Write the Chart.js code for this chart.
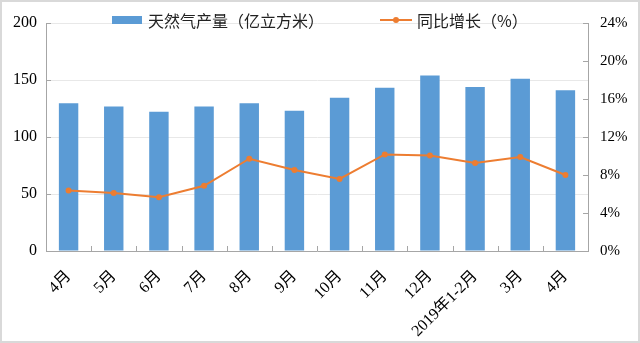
<!DOCTYPE html>
<html>
<head>
<meta charset="utf-8">
<script src="https://cdn.jsdelivr.net/npm/chart.js@4"></script>
<style>
    html, body { margin: 0; padding: 0; background: #fff; }
    #wrap {
        width: 640px; height: 343px; box-sizing: border-box;
        border: 2px solid #d9d9d9; background: #fff;
    }
    #box { width: 636px; height: 339px; position: relative; }
</style>
</head>
<body>
<div id="wrap"><div id="box"><canvas id="gasChart"></canvas></div></div>
<script>
// Data
const months = ['4月', '5月', '6月', '7月', '8月', '9月', '10月', '11月', '12月', '2019年1-2月', '3月', '4月'];
const output = [129.6, 126.8, 122.1, 126.8, 129.6, 123.0, 134.5, 143.3, 153.9, 143.9, 151.1, 141.0];
const growth = [6.36, 6.11, 5.67, 6.87, 9.71, 8.52, 7.59, 10.17, 10.06, 9.27, 9.89, 8.0];
const outputLabel = '天然气产量（亿立方米）';
const growthLabel = '同比增长（%）';

const BLUE = '#5b9bd5';
const ORANGE = '#ed7d31';
const AXIS = '#a6a6a6';
const serif = "'Liberation Serif', 'Noto Sans CJK SC', serif";
const cjk = "'Noto Sans CJK SC', sans-serif";

// Inward tick marks like the original
const innerTicks = {
    id: 'innerTicks',
    afterDatasetsDraw(chart) {
        const ctx = chart.ctx;
        const { y, y1 } = chart.scales;
        const area = chart.chartArea;
        ctx.save();
        ctx.strokeStyle = AXIS;
        ctx.lineWidth = 1;
        ctx.beginPath();
        const step = (area.right - area.left) / months.length;
        for (let i = 1; i < months.length; i++) {
            const px = Math.round(area.left + step * i) + 0.5;
            ctx.moveTo(px, area.bottom);
            ctx.lineTo(px, area.bottom - 5);
        }
        y.ticks.forEach((t, i) => {
            const py = Math.round(y.getPixelForTick(i)) + 0.5;
            ctx.moveTo(area.left, py);
            ctx.lineTo(area.left + 5, py);
        });
        y1.ticks.forEach((t, i) => {
            const py = Math.round(y1.getPixelForTick(i)) + 0.5;
            ctx.moveTo(area.right, py);
            ctx.lineTo(area.right - 5, py);
        });
        ctx.stroke();
        ctx.restore();
    }
};

// Legend drawn inside the plot top
const innerLegend = {
    id: 'innerLegend',
    afterDraw(chart) {
        const ctx = chart.ctx;
        const ds = chart.data.datasets;
        const bar = ds.find(d => d.type === 'bar');
        const line = ds.find(d => d.type === 'line');
        const cy = 18;
        ctx.save();
        ctx.font = '16px ' + cjk;
        ctx.textBaseline = 'middle';

        ctx.fillStyle = bar.backgroundColor;
        ctx.fillRect(110, cy - 4, 30, 8);
        ctx.fillStyle = '#222';
        ctx.fillText(bar.label, 146, cy + 1);

        ctx.strokeStyle = line.borderColor;
        ctx.lineWidth = 2;
        ctx.beginPath();
        ctx.moveTo(378, cy);
        ctx.lineTo(410, cy);
        ctx.stroke();
        ctx.fillStyle = line.borderColor;
        ctx.beginPath();
        ctx.arc(394, cy, 3, 0, Math.PI * 2);
        ctx.fill();
        ctx.fillStyle = '#222';
        ctx.fillText(line.label, 415, cy + 1);
        ctx.restore();
    }
};

const ctx = document.getElementById('gasChart').getContext('2d');
new Chart(ctx, {
    data: {
        labels: months,
        datasets: [
            {
                type: 'bar',
                label: outputLabel,
                data: output,
                backgroundColor: BLUE,
                barPercentage: 0.43,
                categoryPercentage: 1,
                yAxisID: 'y',
                order: 2
            },
            {
                type: 'line',
                label: growthLabel,
                data: growth,
                borderColor: ORANGE,
                backgroundColor: ORANGE,
                borderWidth: 2,
                pointRadius: 3,
                pointBorderWidth: 0,
                tension: 0,
                yAxisID: 'y1',
                order: 1
            }
        ]
    },
    options: {
        responsive: true,
        maintainAspectRatio: false,
        animation: false,
        layout: { padding: { top: 16, left: 0, right: 0, bottom: 0 } },
        plugins: {
            legend: { display: false },
            tooltip: { enabled: false }
        },
        scales: {
            x: {
                grid: { display: false },
                border: { display: true, color: AXIS, width: 1 },
                ticks: {
                    color: '#000',
                    font: { family: serif, size: 16 },
                    maxRotation: 45,
                    minRotation: 45,
                    padding: 8,
                    autoSkip: false
                },
                afterFit: (s) => { s.height = 90; }
            },
            y: {
                position: 'left',
                min: 0,
                max: 200,
                ticks: {
                    stepSize: 50,
                    color: '#000',
                    font: { family: serif, size: 16 },
                    padding: 9
                },
                grid: { color: '#e8e8e8', drawTicks: false },
                border: { display: true, color: AXIS, width: 1 },
                afterFit: (s) => { s.width = 44; }
            },
            y1: {
                position: 'right',
                min: 0,
                max: 24,
                ticks: {
                    stepSize: 4,
                    color: '#000',
                    font: { family: serif, size: 15 },
                    padding: 12,
                    callback: (v) => v + '%'
                },
                grid: { drawOnChartArea: false, drawTicks: false },
                border: { display: true, color: AXIS, width: 1 },
                afterFit: (s) => { s.width = 50; }
            }
        }
    },
    plugins: [innerTicks, innerLegend]
});
</script>
</body>
</html>
